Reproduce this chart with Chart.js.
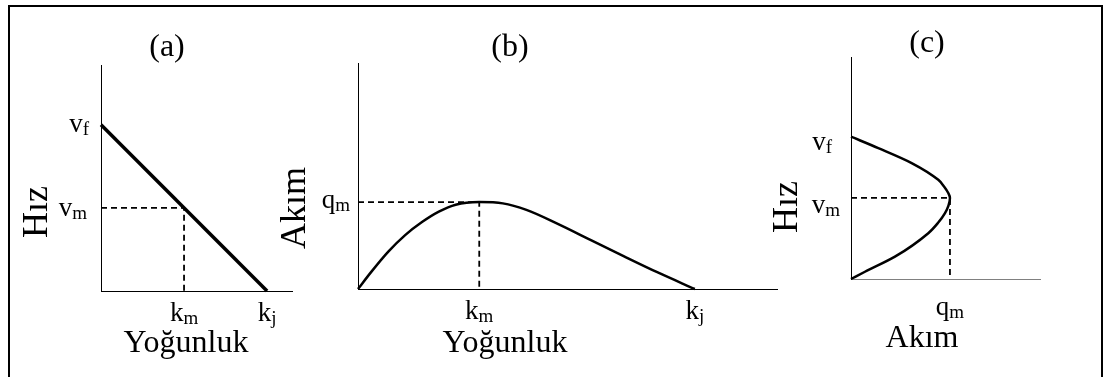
<!DOCTYPE html>
<html>
<head>
<meta charset="utf-8">
<script src="https://cdn.jsdelivr.net/npm/chart.js@4.4.1/dist/chart.umd.min.js"></script>
<style>
  html, body { margin: 0; padding: 0; background: #fff; overflow: hidden; }
  #frame {
    position: absolute; left: 8px; top: 5px; width: 1095px; height: 400px;
    box-sizing: border-box; border: 2px solid #000; border-bottom: none;
  }
  canvas { position: absolute; left: 0; top: 0; }
</style>
</head>
<body>
<div id="frame"></div>
<canvas id="chartA" width="1105" height="377"></canvas>
<canvas id="chartB" width="1105" height="377"></canvas>
<canvas id="chartC" width="1105" height="377"></canvas>
<script>
// (a) speed vs density: straight line from free-flow speed to jam density
const densityA = [0, 100];
const speedA = [100, 0];
const kmA = 50, vmA = 50, kjA = 100, vfA = 100;

// (b) flow vs density
const densityB = [0, 4, 9, 14, 19, 24, 29, 36, 43, 50, 59, 69, 79, 89, 100];
const flowB = [0, 20, 43, 62, 77, 89, 97, 100, 98.5, 91, 75.5, 56.5, 37.5, 19, 0];
const kmB = 36, qmB = 100, kjB = 100;

// (c) speed vs flow, ordered by rising speed
const speedC = [0, 5.1, 15.7, 32.2, 39.5, 46.3, 51.5, 57, 60.4, 65, 69.7, 81.5, 92, 100];
const flowC = [0, 14.1, 44.4, 78.1, 88, 95, 98.5, 100, 98.3, 94, 88.2, 61.3, 27.6, 0];
const qmC = 100, vmC = 57, vfC = 100;

// tick labels as [letter, subscript]
const xLabelsA = [['k', 'm'], ['k', 'j']];
const yLabelsA = [['v', 'f'], ['v', 'm']];
const xLabelsB = [['k', 'm'], ['k', 'j']];
const yLabelsB = [['q', 'm']];
const xLabelsC = [['q', 'm']];
const yLabelsC = [['v', 'f'], ['v', 'm']];

const FONT = '"Liberation Serif", "Times New Roman", serif';

function drawSub(ctx, label, x, y, align, size) {
  const [base, sub] = label;
  const subSize = Math.round(size * 0.7);
  ctx.font = size + 'px ' + FONT;
  const wb = ctx.measureText(base).width;
  ctx.font = subSize + 'px ' + FONT;
  const ws = ctx.measureText(sub).width;
  let x0 = x;
  if (align === 'right') x0 = x - wb - ws;
  else if (align === 'center') x0 = x - (wb + ws) / 2;
  ctx.textAlign = 'left';
  ctx.textBaseline = 'alphabetic';
  ctx.font = size + 'px ' + FONT;
  ctx.fillText(base, x0, y);
  ctx.font = subSize + 'px ' + FONT;
  ctx.fillText(sub, x0 + wb, y + 3);
}

// titles, axis names and subscripted tick labels placed from the scales
const panelText = {
  id: 'panelText',
  afterDraw(chart, args, o) {
    const ctx = chart.ctx;
    const xs = chart.scales.x, ys = chart.scales.y;
    const area = chart.chartArea;
    ctx.save();
    ctx.fillStyle = '#000';
    ctx.textAlign = 'center';
    ctx.textBaseline = 'middle';
    ctx.font = '32px ' + FONT;
    ctx.fillText(o.title, o.titleAt[0], o.titleAt[1]);
    ctx.fillText(o.xTitle, o.xTitleAt[0], o.xTitleAt[1]);
    ctx.save();
    ctx.translate(o.yTitleAt[0], o.yTitleAt[1]);
    ctx.rotate(-Math.PI / 2);
    ctx.font = '36px ' + FONT;
    ctx.fillText(o.yTitle, 0, 0);
    ctx.restore();
    o.xTicks.forEach((v, i) => {
      drawSub(ctx, o.xLabels[i], xs.getPixelForValue(v), area.bottom + o.xDy[i], 'center', 27);
    });
    o.yTicks.forEach((v, i) => {
      drawSub(ctx, o.yLabels[i], area.left - o.yGap[i], ys.getPixelForValue(v) + o.yDy[i], 'right', 27);
    });
    ctx.restore();
  }
};

function axis(max, color) {
  return {
    type: 'linear', min: 0, max: max,
    grid: { display: false, drawTicks: false },
    ticks: { display: false },
    border: { display: true, color: color || '#000', width: 1 }
  };
}

function panel(id, curve, guide, cfg) {
  return new Chart(document.getElementById(id), {
    type: 'line',
    data: {
      datasets: [
        {
          data: curve, borderColor: '#000', borderWidth: cfg.lineWidth,
          cubicInterpolationMode: cfg.smooth ? 'monotone' : 'default',
          tension: 0, pointRadius: 0, fill: false, clip: false
        },
        {
          data: guide, borderColor: '#000', borderWidth: 1.8, borderDash: [6, 4],
          tension: 0, pointRadius: 0, fill: false, clip: false
        }
      ]
    },
    options: {
      indexAxis: cfg.indexAxis || 'x',
      responsive: false, animation: false, events: [],
      layout: { padding: cfg.padding },
      plugins: { legend: { display: false }, tooltip: { enabled: false }, panelText: cfg.text },
      scales: { x: axis(cfg.xMax, cfg.xColor), y: axis(cfg.yMax) }
    },
    plugins: [panelText]
  });
}

panel('chartA',
  densityA.map((k, i) => ({ x: k, y: speedA[i] })),
  [{ x: 0, y: vmA }, { x: kmA, y: vmA }, { x: kmA, y: 0 }],
  {
    lineWidth: 3.5, smooth: false, xMax: 115, yMax: 136,
    padding: { left: 101, top: 65, right: 813, bottom: 86 },
    text: {
      title: '(a)', titleAt: [167, 48],
      xTitle: 'Yoğunluk', xTitleAt: [186, 344],
      yTitle: 'Hız', yTitleAt: [38, 212],
      xTicks: [kmA, kjA], xLabels: xLabelsA, xDy: [30, 30],
      yTicks: [vfA, vmA], yLabels: yLabelsA, yGap: [12, 14], yDy: [7, 8]
    }
  });

panel('chartB',
  densityB.map((k, i) => ({ x: k, y: flowB[i] })),
  [{ x: 0, y: qmB }, { x: kmB, y: qmB }, { x: kmB, y: 0 }],
  {
    lineWidth: 2.5, smooth: true, xMax: 124.4, yMax: 260,
    padding: { left: 358, top: 63, right: 328, bottom: 88 },
    text: {
      title: '(b)', titleAt: [510, 48],
      xTitle: 'Yoğunluk', xTitleAt: [505, 344],
      yTitle: 'Akım', yTitleAt: [296, 208],
      xTicks: [kmB, kjB], xLabels: xLabelsB, xDy: [30, 30],
      yTicks: [qmB], yLabels: yLabelsB, yGap: [8], yDy: [6]
    }
  });

// flow is a function of speed here, so the curve is indexed along y
panel('chartC',
  speedC.map((v, i) => ({ x: flowC[i], y: v })),
  [{ x: 0, y: vmC }, { x: qmC, y: vmC }, { x: qmC, y: 0 }],
  {
    lineWidth: 2.5, smooth: true, indexAxis: 'y', xMax: 191, yMax: 156, xColor: '#808080',
    padding: { left: 851, top: 57, right: 65, bottom: 98 },
    text: {
      title: '(c)', titleAt: [927, 44],
      xTitle: 'Akım', xTitleAt: [922, 339],
      yTitle: 'Hız', yTitleAt: [788, 207],
      xTicks: [qmC], xLabels: xLabelsC, xDy: [36],
      yTicks: [vfC, vmC], yLabels: yLabelsC, yGap: [19, 11], yDy: [13, 15]
    }
  });
</script>
</body>
</html>
